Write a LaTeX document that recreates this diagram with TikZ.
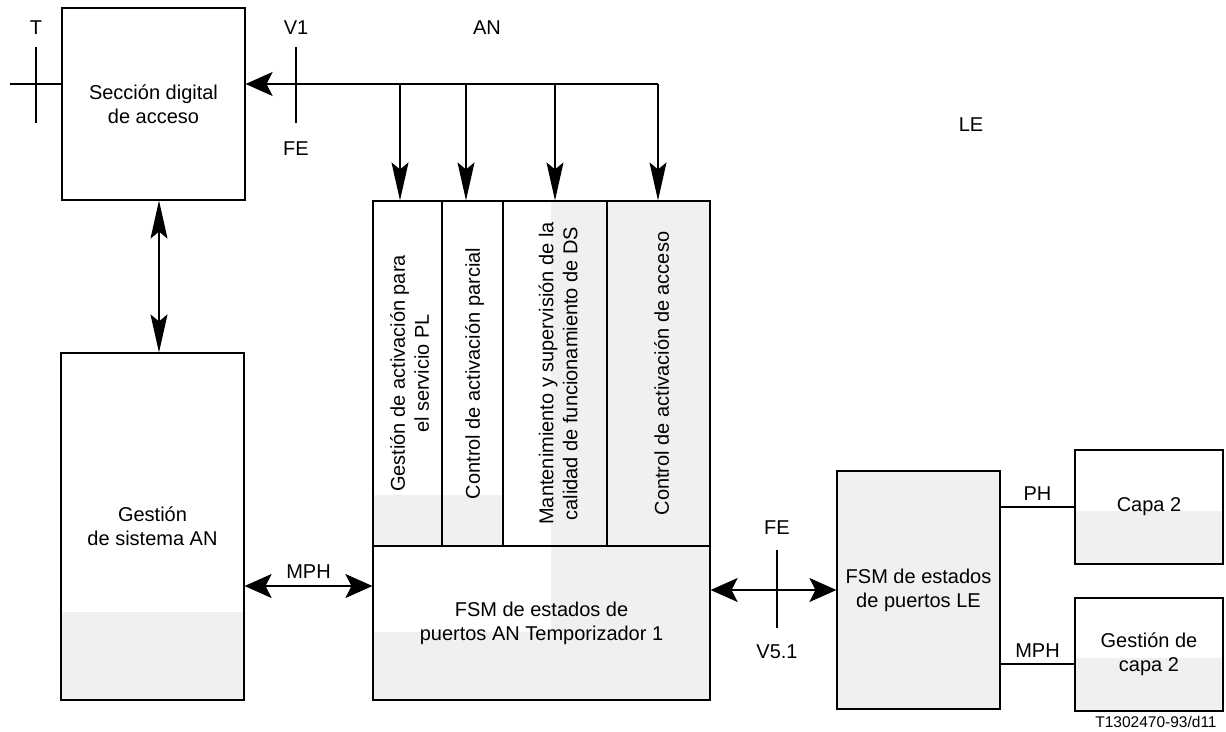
\documentclass[tikz,border=0pt]{standalone}
\usepackage{fontspec}
\setmainfont{Liberation Sans}
\usetikzlibrary{arrows.meta}
\definecolor{scangray}{HTML}{F0F0F0}
\begin{document}
\begin{tikzpicture}[x=1pt,y=-1pt,line width=1.2pt,
    every node/.style={font=\fontsize{20}{24}\selectfont},
    box/.style={draw,inner sep=0pt,align=center},
    vtext/.style={rotate=90,align=center},
    big/.tip={Stealth[length=27pt,width=24pt,inset=6pt]},
    tall/.tip={Stealth[length=38pt,width=17pt,inset=7pt]}]
    \useasboundingbox (0,0) rectangle (1226,731);

    % light tone of the scan
    \fill[scangray] (61,612) rectangle (244,700);
    \fill[scangray] (373,495) rectangle (503,546);
    \fill[scangray] (551,201) rectangle (710,700);
    \fill[scangray] (373,632) rectangle (551,700);
    \fill[scangray] (1075,511) rectangle (1223,564);
    \fill[scangray] (1075,658) rectangle (1223,711);

    \node[box,minimum width=183pt,minimum height=192pt] at (153.5,104) (sda) {Sección digital\\de acceso};
    \node[box,minimum width=183pt,minimum height=347pt] at (152.5,526.5) (gsan) {Gestión\\de sistema AN};

    \node[box,minimum width=69pt,minimum height=345pt] at (407.5,373.5) (c1) {};
    \node[box,minimum width=61pt,minimum height=345pt] at (472.5,373.5) (c2) {};
    \node[box,minimum width=104pt,minimum height=345pt] at (555,373.5) (c3) {};
    \node[box,minimum width=103pt,minimum height=345pt] at (658.5,373.5) (c4) {};
    \node[vtext] at ([xshift=2pt]c1) {Gestión de activación para\\el servicio PL};
    \node[vtext] at ([xshift=2pt]c2) {Control de activación parcial};
    \node[vtext] at ([xshift=3pt]c3) {Mantenimiento y supervisión de la\\calidad de funcionamiento de DS};
    \node[vtext] at ([xshift=3pt]c4) {Control de activación de acceso};
    \node[box,minimum width=337pt,minimum height=154pt] at (541.5,623) (fsm) {FSM de estados de\\puertos AN Temporizador 1};

    \node[box,fill=scangray,minimum width=163pt,minimum height=238pt] at (918.5,590) (le) {FSM de estados\\de puertos LE};
    \node[box,minimum width=148pt,minimum height=114pt] at (1149,507) (capa2) {Capa 2};
    \node[box,minimum width=148pt,minimum height=113pt] at (1149,654.5) (gcapa2) {Gestión de\\capa 2};

    % reference points
    \node at (36,28) (t) {T};
    \node at (296,28) (v1) {V1};
    \node at (296,149) (fe1) {FE};
    \node at (487,28) (an) {AN};
    \node at (971,125) (lez) {LE};
    \node at (777,528) (fe2) {FE};
    \node at (777,652) (v51) {V5.1};
    \draw (36,47) -- (36,123);
    \draw (296,47) -- (296,123);
    \draw (777,550) -- (777,628);

    \coordinate (tl) at (10,84);
    \draw (tl) -- (tl -| sda.west);

    \coordinate (bus) at (658,84);
    \draw[-big] (bus) -- (bus -| sda.east);
    \foreach \x/\c in {400/c1,466/c2,555/c3,658/c4}
        \draw[-tall] (\x,84) -- (\x,84 |- \c.north);

    \draw[tall-tall] ([xshift=5.5pt]sda.south) -- ([xshift=6.5pt]gsan.north);

    \path ([yshift=37pt]fsm.west) coordinate (fsmw);
    \draw[big-big] (gsan.east |- fsmw) -- (fsmw) node[midway,above=4pt] {MPH};
    \draw[big-big] (le.west -| fsm.east) -- (le.west);

    \path ([yshift=-9.5pt]gcapa2.west) coordinate (g2w);
    \draw (capa2.west -| le.east) -- (capa2.west) node[midway,above=3pt] {PH};
    \draw (g2w -| le.east) -- (g2w) node[midway,above=3pt] {MPH};

    \node[font=\fontsize{15.5}{18}\selectfont,anchor=base] at (1156,727) (code) {T1302470-93/d11};
\end{tikzpicture}
\end{document}
